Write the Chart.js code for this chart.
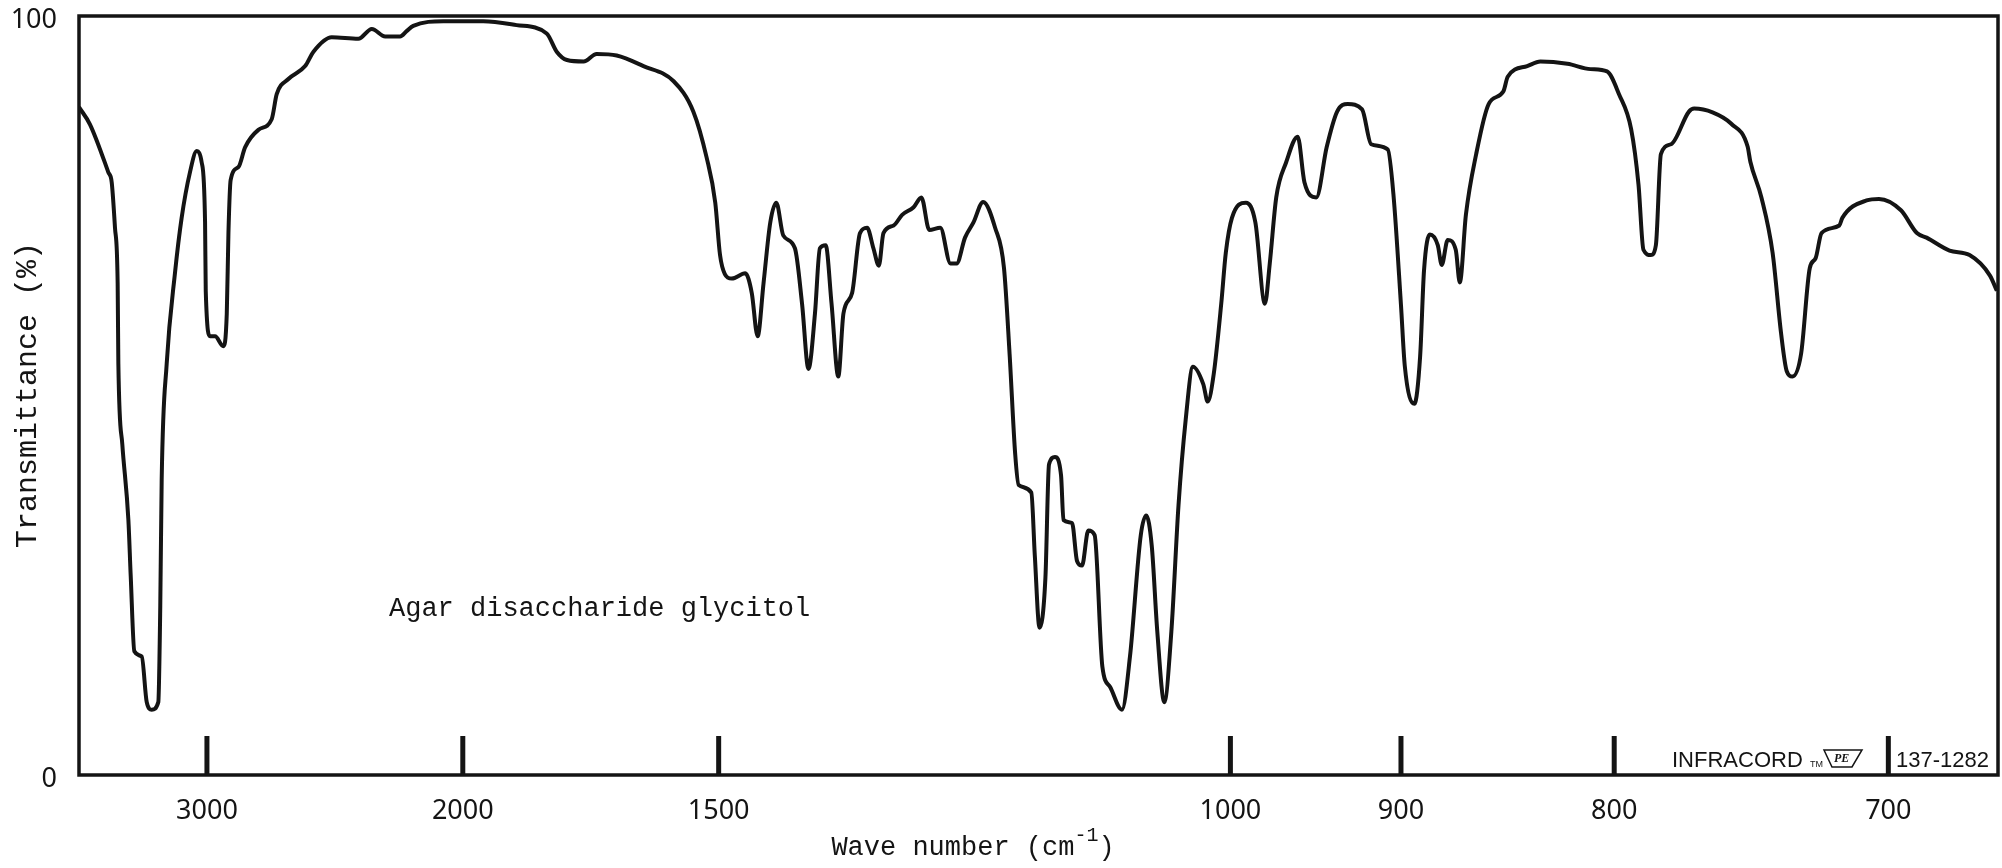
<!DOCTYPE html>
<html>
<head>
<meta charset="utf-8">
<script src="https://cdn.jsdelivr.net/npm/chart.js@4/dist/chart.umd.min.js"></script>
<style>
  html, body { margin: 0; padding: 0; background: #fff; }
</style>
</head>
<body>
<canvas id="myChart" width="2002" height="868"></canvas>
<script>
// IR spectrum (Infracord). Wave numbers in cm-1, transmittance in %.
const waveNumbers = [
  4000, 3888, 3716, 3686, 3657, 3634, 3628, 3594, 3544, 3525, 3496, 3438, 3400, 3363, 3315,
  3301, 3291, 3256, 3200, 3156, 3103, 3061, 3031, 3011, 3007, 2982, 2953, 2907, 2888, 2879,
  2867, 2826, 2792, 2726, 2663, 2640, 2588, 2517, 2483, 2412, 2315, 2269, 2225, 2178, 2158,
  2138, 2052, 1948, 1869, 1803, 1782, 1761, 1728, 1703, 1666, 1619, 1569, 1538, 1518, 1505,
  1498, 1491, 1481, 1462, 1453, 1445, 1437, 1428, 1420, 1411, 1396, 1387, 1379, 1371, 1365,
  1358, 1351, 1343, 1337, 1327, 1318, 1310, 1303, 1297, 1292, 1281, 1272, 1260, 1252, 1244,
  1233, 1223, 1217, 1209, 1201, 1192, 1181, 1173, 1168, 1163, 1160, 1149, 1146, 1142, 1137,
  1134, 1129, 1124, 1122, 1115, 1111, 1107, 1102, 1097, 1091, 1085, 1076, 1070, 1062, 1058,
  1054, 1050, 1045, 1040, 1035, 1030, 1025, 1018, 1015, 1011, 1006, 1003, 999, 990, 984,
  978, 975, 971, 965, 958, 954, 947, 941, 935, 929, 921, 916, 907, 904, 900,
  898, 893, 890, 888, 885, 881, 879, 876, 872, 870, 867, 862, 856, 849, 847,
  838, 832, 820, 810, 803, 798, 793, 790, 788, 785, 783, 781, 777, 770, 768,
  761, 754, 748, 747, 743, 739, 736, 734, 732, 729, 726, 724, 722, 716, 715,
  707, 703, 696, 691, 688, 681, 675, 669, 667
];
const transmittance = [
  88.0, 85.7, 79.4, 78.1, 72.1, 64.8, 54.2, 43.5, 33.6, 26.2, 16.3, 15.6, 9.6, 8.6, 9.6,
  22.3, 38.9, 54.2, 66.1, 73.4, 79.4, 82.2, 80.7, 72.8, 63.8, 57.8, 57.8, 56.5, 60.8, 71.4,
  78.4, 80.1, 82.7, 85.0, 86.4, 89.7, 91.7, 93.4, 95.3, 97.2, 97.0, 98.3, 97.3, 97.3, 98.0,
  98.7, 99.3, 99.3, 98.8, 97.7, 95.3, 94.2, 94.0, 95.0, 94.8, 93.4, 91.4, 87.4, 81.4, 75.4,
  68.5, 66.0, 65.4, 66.1, 63.5, 57.8, 64.8, 72.8, 75.4, 71.1, 69.4, 62.1, 53.5, 60.8, 69.4,
  69.8, 62.1, 52.5, 60.8, 63.5, 71.4, 72.1, 69.4, 67.1, 71.4, 72.4, 73.8, 74.8, 76.1, 71.8,
  72.1, 67.4, 67.4, 70.8, 72.8, 75.5, 72.1, 66.8, 55.5, 42.2, 38.2, 37.2, 28.9, 19.4, 26.0,
  40.9, 41.9, 39.5, 33.6, 33.2, 28.2, 27.6, 32.2, 31.6, 14.3, 11.6, 8.6, 15.6, 31.6, 34.2,
  30.2, 18.9, 9.6, 18.9, 35.5, 46.8, 53.8, 51.5, 49.2, 52.8, 62.1, 68.8, 73.4, 75.4, 72.8,
  62.1, 67.4, 76.1, 80.7, 84.1, 78.1, 76.1, 82.7, 87.4, 88.4, 87.7, 83.1, 82.4, 76.5, 61.9,
  53.9, 48.9, 55.2, 66.5, 71.2, 69.8, 67.2, 70.5, 69.2, 64.9, 73.8, 81.8, 88.4, 90.1, 92.0,
  93.4, 94.0, 93.7, 93.0, 92.7, 89.7, 85.1, 77.8, 69.2, 68.5, 69.8, 81.8, 83.1, 87.4, 87.8,
  87.3, 85.8, 82.8, 80.8, 76.1, 68.8, 58.2, 53.2, 52.5, 55.5, 66.8, 68.1, 71.4, 72.4, 73.4,
  75.7, 75.9, 74.4, 71.4, 70.8, 69.1, 68.5, 65.8, 63.8
];
const tickWaveNumbers = [3000, 2000, 1500, 1000, 900, 800, 700];
const yTicks = [0, 100];
const sampleName = 'Agar disaccharide glycitol';
const yTitle = 'Transmittance (%)';

// the chart paper is linear in wavelength (2.5 - 15 um), labelled in wave numbers
const toMicron = wn => 10000 / wn;

const ink = '#141414';
const typeFont = '"Liberation Mono", "DejaVu Sans Mono", monospace';

const paperFrame = {
  id: 'paperFrame',
  afterDatasetsDraw(chart) {
    const { ctx, chartArea: a, scales: { x, y } } = chart;
    ctx.save();
    ctx.strokeStyle = ink;
    ctx.fillStyle = ink;

    // frame
    ctx.lineWidth = 3.5;
    ctx.strokeRect(a.left, a.top, a.right - a.left, a.bottom - a.top);

    // short inner tick marks
    ctx.lineWidth = 5;
    x.ticks.forEach(t => {
      const px = x.getPixelForValue(t.value);
      ctx.beginPath();
      ctx.moveTo(px, a.bottom);
      ctx.lineTo(px, a.bottom - 39);
      ctx.stroke();
    });

    // sample name
    ctx.font = '27px ' + typeFont;
    ctx.textAlign = 'left';
    ctx.textBaseline = 'middle';
    ctx.fillText(sampleName, 389, y.getPixelForValue(21.9));

    // y title
    ctx.save();
    ctx.translate(28, 395);
    ctx.rotate(-Math.PI / 2);
    ctx.textAlign = 'center';
    ctx.font = '30px ' + typeFont;
    ctx.fillText(yTitle, 0, 0);
    ctx.restore();

    // x title with superscript
    ctx.font = '27px ' + typeFont;
    const main = 'Wave number (cm';
    const sup = '-1';
    const close = ')';
    const wMain = ctx.measureText(main).width;
    ctx.font = '20px ' + typeFont;
    const wSup = ctx.measureText(sup).width;
    ctx.font = '27px ' + typeFont;
    const wClose = ctx.measureText(close).width;
    let tx = 973 - (wMain + wSup + wClose) / 2;
    const ty = 848;
    ctx.textAlign = 'left';
    ctx.fillText(main, tx, ty);
    tx += wMain;
    ctx.font = '20px ' + typeFont;
    ctx.fillText(sup, tx, ty - 12);
    tx += wSup;
    ctx.font = '27px ' + typeFont;
    ctx.fillText(close, tx, ty);

    // instrument imprint
    ctx.font = '22px "Liberation Sans", Arial, sans-serif';
    ctx.textBaseline = 'alphabetic';
    ctx.fillText('INFRACORD', 1672, 767);
    ctx.font = '9px "Liberation Sans", Arial, sans-serif';
    ctx.fillText('TM', 1810, 767);
    ctx.lineWidth = 1.5;
    ctx.beginPath();
    ctx.moveTo(1824, 750);
    ctx.lineTo(1862, 750);
    ctx.lineTo(1852, 767);
    ctx.lineTo(1832, 767);
    ctx.closePath();
    ctx.stroke();
    ctx.font = 'italic bold 12px "Liberation Serif", serif';
    ctx.fillText('PE', 1834, 762);
    ctx.font = '22px "Liberation Sans", Arial, sans-serif';
    ctx.textAlign = 'right';
    ctx.fillText('137-1282', 1989, 767);
    ctx.restore();
  }
};

const ctx = document.getElementById('myChart').getContext('2d');
const myChart = new Chart(ctx, {
  type: 'line',
  data: {
    datasets: [{
      label: 'Transmittance',
      data: waveNumbers.map((wn, i) => ({ x: toMicron(wn), y: transmittance[i] })),
      borderColor: ink,
      borderWidth: 4,
      pointRadius: 0,
      cubicInterpolationMode: 'monotone',
      fill: false
    }]
  },
  options: {
    responsive: false,
    animation: false,
    devicePixelRatio: 1,
    layout: { padding: { top: 16, right: 4, left: 0, bottom: 0 } },
    plugins: {
      legend: { display: false },
      tooltip: { enabled: false }
    },
    scales: {
      x: {
        type: 'linear',
        min: 2.5,
        max: 15,
        grid: { display: false },
        border: { display: false },
        afterBuildTicks: scale => {
          scale.ticks = tickWaveNumbers.map(wn => ({ value: toMicron(wn) }));
        },
        afterFit: scale => {
          scale.height = 93;
          scale.paddingLeft = 0;
          scale.paddingRight = 0;
        },
        ticks: {
          autoSkip: false,
          maxRotation: 0,
          padding: 12,
          color: ink,
          font: { family: '"Noto Sans", sans-serif', size: 27 },
          callback: v => String(Math.round(10000 / v))
        }
      },
      y: {
        min: 0,
        max: 100,
        grid: { display: false },
        border: { display: false },
        afterBuildTicks: scale => {
          scale.ticks = yTicks.map(v => ({ value: v }));
        },
        afterFit: scale => {
          scale.width = 79;
          scale.paddingTop = 0;
          scale.paddingBottom = 0;
        },
        ticks: {
          padding: 14,
          labelOffset: 4,
          color: ink,
          font: { family: '"Noto Sans", sans-serif', size: 27 }
        }
      }
    }
  },
  plugins: [paperFrame]
});
</script>
</body>
</html>
